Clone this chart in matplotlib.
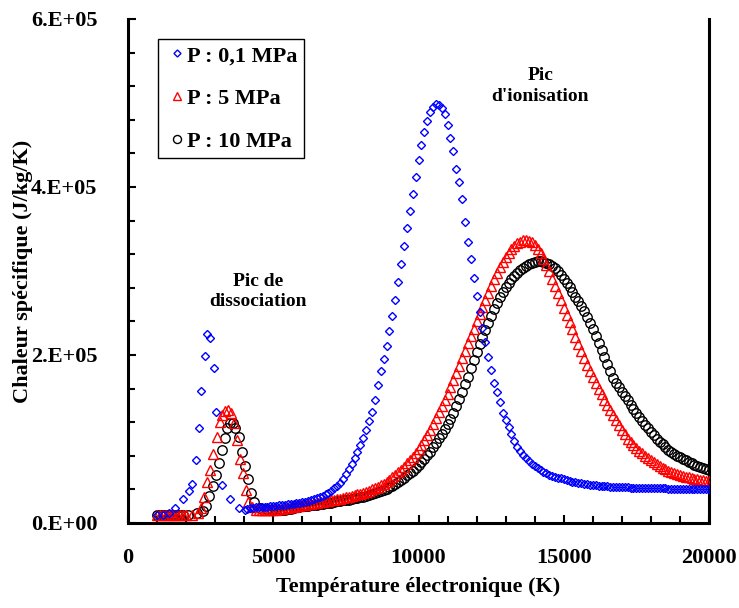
import matplotlib
matplotlib.use("Agg")
import matplotlib.pyplot as plt
from matplotlib.ticker import MultipleLocator, FuncFormatter
import numpy as np

plt.rcParams['font.family'] = ['Liberation Serif', 'DejaVu Serif']
plt.rcParams['font.weight'] = 'bold'

# ---------------- data (values in 1e3 J/kg/K) ----------------
# P = 0.1 MPa
T_01_low = [1000, 1200, 1400, 1620, 1900, 2100, 2220, 2340, 2430, 2510, 2640, 2730,
            2820, 2950, 3040, 3250, 3520, 3820, 4030]
cp_01_low = [9, 10, 12, 17.5, 28, 38, 46, 74.6, 113, 157, 199, 225,
             220, 184, 132, 45, 28, 17.5, 16]
T_01_high = list(range(4100, 20001, 100))
cp_01_high = [17, 17.5, 18, 18.5, 18.8, 19, 19.3, 19.6, 20,
              20.3, 20.6, 21, 21.4, 21.7, 22.1, 22.5, 23, 23.5, 24,
              24.6, 25.3, 26.2, 27.2, 28.3, 29.5, 30.9, 32.5, 34.3, 36.3,
              38.5, 41.2, 44.3, 48, 52.5, 58, 64, 70.5, 77.5, 85,
              93, 101.5, 111, 121, 132, 147, 164, 181, 195, 211,
              229, 246, 265, 287, 308, 330, 351, 371, 392, 412,
              432, 450, 465, 479, 489, 495, 499, 498, 494, 487,
              474, 458, 443, 421, 406, 386, 358, 335, 314, 292,
              270, 251, 232, 216, 198, 182.5, 167, 156, 143.5, 131,
              123, 114, 105.5, 97.5, 91, 86, 81, 77, 73.6, 70.5,
              68, 65, 62.7, 61, 59, 57.6, 56.4, 55.2, 54, 53,
              52, 51.2, 50.3, 49.4, 48.8, 48.2, 47.6, 47, 46.4, 45.8,
              45.3, 45, 44.6, 44.3, 44, 43.7, 43.4, 43.1, 42.9, 42.7,
              42.6, 42.4, 42.3, 42.2, 42.1, 42, 41.9, 41.8, 41.7, 41.6,
              41.5, 41.4, 41.3, 41.3, 41.2, 41.1, 41, 41, 40.9, 40.9,
              40.8, 40.8, 40.7, 40.7, 40.7, 40.6, 40.6, 40.6, 40.5, 40.5,
              40.5]

# P = 5 MPa
T_5_low = [1000, 1100, 1200, 1300, 1400, 1500, 1600, 1700, 1800, 1900,
           2000, 2200, 2400, 2510, 2620, 2730, 2820, 2940, 3050, 3170, 3250,
           3340, 3450, 3550, 3650, 3740, 3860, 3950, 4060, 4140, 4260]
cp_5_low = [9, 9, 9, 9, 9, 9, 9, 9, 9, 9,
            9, 10, 12, 17.5, 31, 49, 63, 82, 102, 120, 128.6,
            133.7, 135, 130.6, 118.7, 98.8, 75.8, 59, 39, 25, 18.7]
T_5_high = list(range(4400, 20001, 100))
cp_5_high = [16, 15.5, 15.2, 15, 15, 15.2,
             15.5, 16, 16.6, 17.2, 17.8, 18.4, 19, 19.6, 20.2, 20.7,
             21.2, 21.7, 22.2, 22.8, 23.4, 24, 24.6, 25.2, 25.8, 26.4,
             27, 27.6, 28.3, 29, 29.8, 30.5, 31.3, 32.2, 33.1, 34,
             35, 36, 37.3, 38.6, 40, 41.6, 43.3, 45, 47, 49,
             51.5, 54.2, 57, 60.3, 63.6, 67.2, 71, 74.8, 79, 83.3,
             88, 93.3, 98.8, 104.6, 111, 117.8, 125, 132, 139, 146.5,
             154, 162, 170.5, 179, 187.5, 196, 205, 214, 222.5, 231,
             240, 248.5, 257, 265.5, 273.5, 282, 290.5, 298, 305, 311,
             317, 322, 326.5, 330, 333, 335, 336.5, 337, 336, 334,
             330.5, 326, 321, 314.5, 307.5, 299.5, 291, 282.5, 273.5, 265,
             256, 247.5, 239, 230.5, 222, 213.5, 205, 196.5, 188.5, 181,
             173.5, 166.5, 159.5, 153, 147, 141, 135, 129, 123, 117,
             111, 105.5, 100.5, 96.5, 92.8, 89.3, 86, 83, 80, 77.3,
             74.8, 72.5, 70.2, 68, 66, 64.2, 62.5, 61, 59.7, 58.5,
             57.3, 56.2, 55.2, 54.3, 53.5, 52.8, 52.1, 51.5, 51, 50.5,
             50]

# P = 10 MPa
T_10_low = [1000, 1100, 1200, 1300, 1400, 1500, 1600, 1700, 1800, 1900,
            2080, 2390, 2590, 2690, 2800, 2910, 3030, 3120, 3240, 3330,
            3420, 3510, 3600, 3690, 3830, 3920, 4030, 4130, 4250, 4350,
            4540, 4800, 4950]
cp_10_low = [9, 9, 9, 9, 9, 9, 9, 9, 9, 9,
             9, 11.5, 14.7, 20, 32, 44, 57, 71, 87, 101,
             113, 119, 119, 113, 102, 85, 68, 52, 36, 25,
             17.5, 16.5, 16]
T_10_high = list(range(5100, 20001, 100))
cp_10_high = [15, 15.2, 15.4, 15.8, 16.4, 17.1, 17.9, 18.7, 19.2,
              19.7, 20.1, 20.6, 21.1, 21.5, 22, 22.5, 23, 23.5, 24,
              24.4, 25, 25.6, 26.2, 26.8, 27.3, 27.9, 28.6, 29.3, 30,
              30.7, 31.3, 32.3, 33.3, 34.3, 35.4, 36.6, 37.7, 39.3, 41,
              42.8, 44.6, 46.7, 49, 51.4, 53.9, 56.6, 59, 62, 65.2,
              68.5, 72.2, 76.3, 80.5, 85, 90, 95.5, 101, 106, 111.5,
              117.5, 123.5, 131, 139, 148, 156, 165, 174, 184, 194,
              204, 213, 222, 230, 238, 247, 255, 262, 269, 275,
              281, 286, 290.5, 294.5, 298, 301, 304, 306.5, 308.5, 310,
              311, 311.5, 311.5, 311, 310, 308.5, 306.5, 303, 299.5, 295,
              291, 286, 280.5, 275, 269.5, 264, 258, 252, 245, 238,
              230.5, 222.5, 214.5, 206, 197.5, 189, 181, 173, 166.5, 161.5,
              156.5, 151.5, 146, 141, 136, 131, 126, 121, 117, 112.7,
              108.5, 104.5, 100.5, 97, 93.5, 90, 87, 84.5, 82.2, 80.3,
              78.3, 76, 74.5, 72.5, 71, 69.5, 68, 66.7, 65.3, 64.2,
              63]

labels = ['P : 0,1 MPa', 'P : 5 MPa', 'P : 10 MPa']
colors = ['#0000FF', '#FF0000', '#000000']

# ---------------- figure ----------------
fig = plt.figure(figsize=(7.39, 6.08), dpi=100)
ax = fig.add_axes([128/739, 1-523/608, (709-128)/739, (523-19)/608])

T01 = np.array(T_01_low + T_01_high)
C01 = np.array(cp_01_low + cp_01_high) * 1e3
T5 = np.array(T_5_low + T_5_high)
C5 = np.array(cp_5_low + cp_5_high) * 1e3
T10 = np.array(T_10_low + T_10_high)
C10 = np.array(cp_10_low + cp_10_high) * 1e3

ax.plot(T10, C10, linestyle='none', marker='o', markersize=6.8, markerfacecolor='none',
        markeredgecolor=colors[2], markeredgewidth=1.0, label=labels[2], zorder=3)
ax.plot(T5, C5, linestyle='none', marker='^', markersize=6.5, markerfacecolor='none',
        markeredgecolor=colors[1], markeredgewidth=1.0, label=labels[1], zorder=4)
ax.plot(T01, C01, linestyle='none', marker='D', markersize=4.2, markerfacecolor='none',
        markeredgecolor=colors[0], markeredgewidth=1.0, label=labels[0], zorder=5)

ax.set_xlim(0, 20000)
ax.set_ylim(0, 6e5)
ax.xaxis.set_major_locator(MultipleLocator(5000))
ax.xaxis.set_minor_locator(MultipleLocator(1000))
ax.yaxis.set_major_locator(MultipleLocator(2e5))
ax.yaxis.set_minor_locator(MultipleLocator(4e4))
ax.yaxis.set_major_formatter(FuncFormatter(lambda v, p: '%d.E+%02d' % (round(v/1e5), 5) if v > 0 else '0.E+00'))

for s in ['left', 'bottom', 'right']:
    ax.spines[s].set_linewidth(2.2)
ax.spines['top'].set_visible(False)

ax.tick_params(which='both', direction='in', labelsize=16, width=1.5)
ax.tick_params(which='major', length=6)
ax.tick_params(which='minor', length=5)
ax.tick_params(axis='x', which='both', top=False, pad=18)
ax.tick_params(axis='y', which='both', right=False, pad=22)
for lab in ax.get_xticklabels() + ax.get_yticklabels():
    lab.set_fontweight('bold')

ax.set_xlabel('Température électronique (K)', fontsize=16, fontweight='bold')
ax.set_ylabel('Chaleur spécifique (J/kg/K)', fontsize=16, fontweight='bold')
ax.xaxis.set_label_coords(0.5, (523-577)/504)
ax.yaxis.set_label_coords((33-128)/581, 0.5)

ax.text(4475, 2.76e5, 'Pic de\ndissociation', ha='center', va='center', fontsize=14,
        fontweight='bold', linespacing=1.25)
ax.text(14190, 5.2e5, "Pic\nd'ionisation", ha='center', va='center', fontsize=14,
        fontweight='bold', linespacing=1.35)

h, l = ax.get_legend_handles_labels()
order = [2, 1, 0]
leg = ax.legend([h[i] for i in order], [l[i] for i in order], loc='upper left',
                bbox_to_anchor=((158-128)/581, (523-39)/504), borderaxespad=0,
                fancybox=False, framealpha=1, edgecolor='black', handlelength=1.1,
                handletextpad=-0.1, labelspacing=1.0, borderpad=0.3,
                prop={'size': 16, 'weight': 'bold'}, markerscale=0.85)
leg.get_frame().set_linewidth(1.0)

fig.savefig('out.png', dpi=100)
